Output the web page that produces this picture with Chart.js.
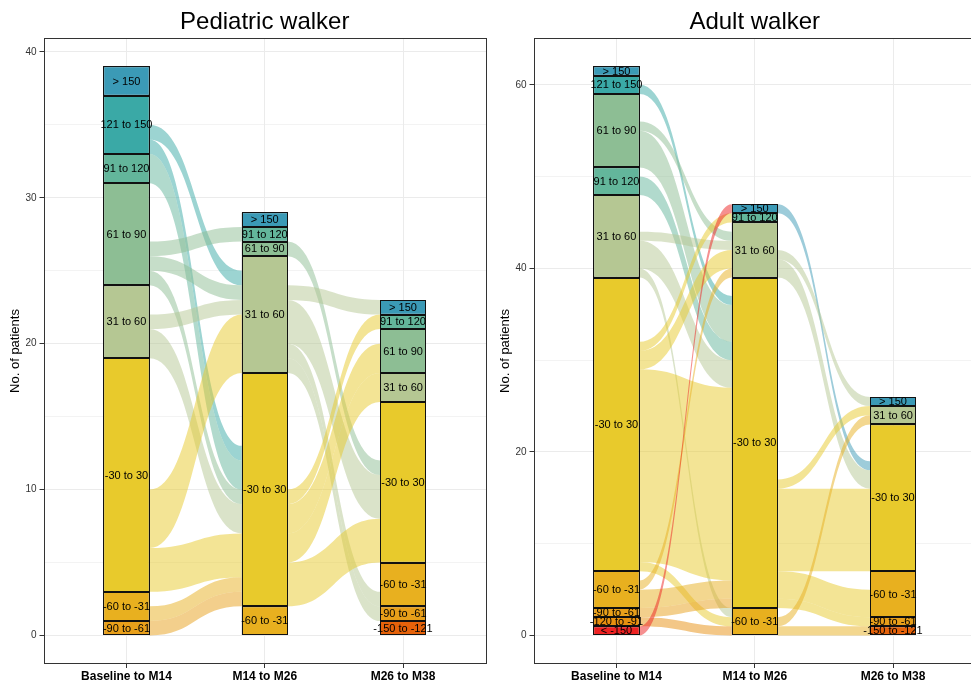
<!DOCTYPE html>
<html>
<head>
<meta charset="utf-8">
<script src="https://cdn.jsdelivr.net/npm/chart.js@4.4.1/dist/chart.umd.min.js"></script>
<style>
  html, body { margin:0; padding:0; background:#fff; overflow:hidden; }
  #wrap { position:relative; width:971px; height:682px; overflow:hidden; }
  canvas { position:absolute; top:0; }
</style>
</head>
<body>
<div id="wrap">
  <canvas id="ped" width="490" height="682" style="left:0px"></canvas>
  <canvas id="adult" width="490" height="682" style="left:490px"></canvas>
</div>
<script>
// ---------------- DATA ----------------
const categories = ["Baseline to M14", "M14 to M26", "M26 to M38"];

// strata per axis, listed top -> bottom: [label, number of patients]
const pedBaseline = [["> 150",2],["121 to 150",4],["91 to 120",2],["61 to 90",7],["31 to 60",5],["-30 to 30",16],["-60 to -31",2],["-90 to -61",1]];
const pedM14 = [["> 150",1],["91 to 120",1],["61 to 90",1],["31 to 60",8],["-30 to 30",16],["-60 to -31",2]];
const pedM26 = [["> 150",1],["91 to 120",1],["61 to 90",3],["31 to 60",2],["-30 to 30",11],["-60 to -31",3],["-90 to -61",1],["-150 to -121",1]];

// flows between consecutive axes: [from, to, patients]
const pedFlows1 = [
  ["121 to 150","31 to 60",1],["121 to 150","-30 to 30",1],
  ["91 to 120","-30 to 30",2],
  ["61 to 90","91 to 120",1],["61 to 90","31 to 60",1],["61 to 90","-30 to 30",1],
  ["31 to 60","31 to 60",1],["31 to 60","-30 to 30",2],
  ["-30 to 30","31 to 60",4],["-30 to 30","-30 to 30",3],
  ["-60 to -31","-30 to 30",1],["-90 to -61","-30 to 30",1]
];
const pedFlows2 = [
  ["61 to 90","-30 to 30",1],
  ["31 to 60","> 150",1],["31 to 60","-30 to 30",3],["31 to 60","-60 to -31",1],["31 to 60","-90 to -61",1],
  ["-30 to 30","91 to 120",1],["-30 to 30","61 to 90",2],["-30 to 30","31 to 60",2],["-30 to 30","-30 to 30",3]
];

const adultBaseline = [["> 150",1],["121 to 150",2],["61 to 90",8],["91 to 120",3],["31 to 60",9],["-30 to 30",32],["-60 to -31",4],["-90 to -61",1],["-120 to -91",1],["< -150",1]];
const adultM14 = [["> 150",1],["91 to 120",1],["31 to 60",6],["-30 to 30",36],["-60 to -31",3]];
const adultM26 = [["> 150",1],["31 to 60",2],["-30 to 30",16],["-60 to -31",5],["-90 to -61",1],["-150 to -121",1]];

const adultFlows1 = [
  ["121 to 150","-30 to 30",1],
  ["61 to 90","31 to 60",1],["61 to 90","-30 to 30",4],
  ["91 to 120","-30 to 30",2],
  ["31 to 60","31 to 60",1],["31 to 60","-30 to 30",3],["31 to 60","-60 to -31",1],
  ["-30 to 30","91 to 120",1],["-30 to 30","31 to 60",2],["-30 to 30","-30 to 30",21],["-30 to 30","-60 to -31",1],
  ["-60 to -31","31 to 60",1],["-60 to -31","-30 to 30",2],
  ["-90 to -61","-30 to 30",1],
  ["-120 to -91","-60 to -31",1],
  ["< -150","> 150",1]
];
const adultFlows2 = [
  ["> 150","-30 to 30",1],
  ["31 to 60","> 150",1],["31 to 60","-30 to 30",2],
  ["-30 to 30","31 to 60",1],["-30 to 30","-30 to 30",9],["-30 to 30","-60 to -31",3],["-30 to 30","-90 to -61",1],
  ["-60 to -31","31 to 60",1],["-60 to -31","-150 to -121",1]
];

const pedTicks = [0,10,20,30,40];
const pedMinorTicks = [5,15,25,35];
const adultTicks = [0,20,40,60];
const adultMinorTicks = [10,30,50];

// ---------------- STYLE ----------------
const strataColors = {
  "> 150": "#3b9ab6",
  "121 to 150": "#3aa9a6",
  "91 to 120": "#63b69b",
  "61 to 90": "#8dbe94",
  "31 to 60": "#b5c793",
  "-30 to 30": "#e8ca2c",
  "-60 to -31": "#e8b01f",
  "-90 to -61": "#e89f1a",
  "-120 to -91": "#e8900f",
  "-150 to -121": "#e5620a",
  "< -150": "#ee2222"
};
const FONT = '"Liberation Sans", Arial, Helvetica, sans-serif';
Chart.defaults.font.family = FONT;

function rgba(hex, a){
  const n = parseInt(hex.slice(1),16);
  return `rgba(${(n>>16)&255},${(n>>8)&255},${n&255},${a})`;
}

function layoutStrata(list){
  let y = list.reduce((s,e)=>s+e[1],0);
  const m = {};
  list.forEach(([name,n])=>{ m[name] = {top:y, bot:y-n, n}; y -= n; });
  return m;
}

function layoutFlows(srcList, dstList, flows){
  const sm = layoutStrata(srcList), dm = layoutStrata(dstList);
  const sIdx = nm => srcList.findIndex(s=>s[0]===nm);
  const dIdx = nm => dstList.findIndex(s=>s[0]===nm);
  const res = flows.map(f=>({from:f[0], to:f[1], n:f[2]}));
  srcList.forEach(([name,count])=>{
    const out = res.filter(f=>f.from===name).sort((a,b)=>dIdx(a.to)-dIdx(b.to));
    const used = out.reduce((s,f)=>s+f.n,0);
    let cur = sm[name].top - (count-used);
    out.forEach(f=>{ f.top0=cur; f.bot0=cur-f.n; cur-=f.n; });
  });
  dstList.forEach(([name,count])=>{
    const inc = res.filter(f=>f.to===name).sort((a,b)=>sIdx(a.from)-sIdx(b.from));
    const used = inc.reduce((s,f)=>s+f.n,0);
    let cur = dm[name].top - (count-used);
    inc.forEach(f=>{ f.top1=cur; f.bot1=cur-f.n; cur-=f.n; });
  });
  return res;
}

function makeChart(id, title, axesLists, flowLists, majorTicks, minorTicks){
  const maps = axesLists.map(layoutStrata);
  const names = [];
  axesLists.forEach(l=>l.forEach(([n])=>{ if(!names.includes(n)) names.push(n); }));
  const total = Math.max(...axesLists.map(l=>l.reduce((s,e)=>s+e[1],0)));
  const pad = total*0.05;
  const transitions = flowLists.map((fl,i)=>layoutFlows(axesLists[i], axesLists[i+1], fl));
  const allTicks = [...majorTicks, ...minorTicks].sort((a,b)=>a-b);

  const datasets = names.map(name=>({
    label: name,
    data: maps.map((m,i)=> m[name] ? {x:i+1, y:[m[name].bot, m[name].top]} : null).filter(Boolean),
    backgroundColor: strataColors[name],
    borderColor: '#000',
    borderWidth: 0.8,
    borderSkipped: false,
    barPercentage: 1/3,
    categoryPercentage: 1,
    grouped: false
  }));

  const plugin = {
    id: 'alluvial_'+id,
    beforeDatasetsDraw(chart){
      const {ctx, chartArea:ca, scales:{x,y}} = chart;
      ctx.save();
      ctx.beginPath(); ctx.rect(ca.left, ca.top, ca.right-ca.left, ca.bottom-ca.top); ctx.clip();
      transitions.forEach((flows, t)=>{
        const x0 = x.getPixelForValue(t+1+1/6);
        const x1 = x.getPixelForValue(t+2-1/6);
        const xm = (x0+x1)/2;
        flows.forEach(f=>{
          const a0=y.getPixelForValue(f.top0), b0=y.getPixelForValue(f.bot0);
          const a1=y.getPixelForValue(f.top1), b1=y.getPixelForValue(f.bot1);
          ctx.beginPath();
          ctx.moveTo(x0,a0);
          ctx.bezierCurveTo(xm,a0,xm,a1,x1,a1);
          ctx.lineTo(x1,b1);
          ctx.bezierCurveTo(xm,b1,xm,b0,x0,b0);
          ctx.closePath();
          ctx.fillStyle = rgba(strataColors[f.from], 0.5);
          ctx.fill();
        });
      });
      ctx.restore();
    },
    afterDatasetsDraw(chart){
      const ctx = chart.ctx;
      ctx.save();
      // outline each stratum once with a crisp dark line
      ctx.strokeStyle = '#111';
      ctx.lineWidth = 1;
      chart.data.datasets.forEach((ds,di)=>{
        const meta = chart.getDatasetMeta(di);
        meta.data.forEach(el=>{
          const p = el.getProps(['x','y','base','width'], true);
          const l = Math.round(p.x - p.width/2)+0.5, r = Math.round(p.x + p.width/2)-0.5;
          const t = Math.round(Math.min(p.y,p.base))+0.5, b = Math.round(Math.max(p.y,p.base))-0.5;
          ctx.strokeRect(l, t, r-l, b-t);
        });
      });
      ctx.font = '11px '+FONT;
      ctx.fillStyle = '#000';
      ctx.textAlign = 'center';
      ctx.textBaseline = 'middle';
      chart.data.datasets.forEach((ds,di)=>{
        const meta = chart.getDatasetMeta(di);
        meta.data.forEach(el=>{
          const p = el.getProps(['x','y','base'], true);
          ctx.fillText(ds.label, p.x, (p.y+p.base)/2+0.5);
        });
      });
      ctx.restore();
    },
    afterDraw(chart){
      const {ctx, chartArea:ca} = chart;
      ctx.save();
      ctx.strokeStyle = '#333';
      ctx.lineWidth = 1;
      ctx.strokeRect(Math.round(ca.left)+0.5, Math.round(ca.top)+0.5, Math.round(ca.right-ca.left)-1, Math.round(ca.bottom-ca.top)-1);
      ctx.fillStyle = '#000';
      ctx.textAlign = 'center';
      ctx.textBaseline = 'alphabetic';
      ctx.font = '24px '+FONT;
      ctx.fillText(title, (ca.left+ca.right)/2, 29);
      ctx.translate(ca.left-28, (ca.top+ca.bottom)/2);
      ctx.rotate(-Math.PI/2);
      ctx.textBaseline = 'middle';
      ctx.font = '13px '+FONT;
      ctx.fillText('No. of patients', 0, 0);
      ctx.restore();
    }
  };

  return new Chart(document.getElementById(id), {
    type: 'bar',
    data: { datasets },
    options: {
      responsive: false,
      animation: false,
      devicePixelRatio: 1,
      layout: { padding: { top: 38, right: 4, left: 0, bottom: 0 } },
      plugins: { legend:{display:false}, tooltip:{enabled:false}, title:{display:false} },
      scales: {
        x: {
          type: 'linear', min: 0.4, max: 3.6, offset: false,
          afterBuildTicks: s => { s.ticks = categories.map((c,i)=>({value:i+1})); },
          afterFit: s => { s.height = 18; },
          ticks: { callback: (v,i)=>categories[i], autoSkip:false, maxRotation:0, padding:1,
                   color:'#000', font:{size:12, weight:'bold'} },
          grid: { offset:false, color:'#ebebeb', lineWidth:1, tickColor:'#333', tickLength:4 },
          border: { display:false }
        },
        y: {
          type: 'linear', min: -pad, max: total+pad,
          afterBuildTicks: s => { s.ticks = allTicks.map(v=>({value:v})); },
          afterFit: s => { s.width = 43.5; },
          ticks: { callback: v => majorTicks.includes(v) ? String(v) : '', autoSkip:false, padding:3,
                   color:'#333', font:{size:10} },
          grid: {
            color: '#ebebeb',
            lineWidth: c => majorTicks.includes(c.tick.value) ? 1 : 0.6,
            tickColor: c => majorTicks.includes(c.tick.value) ? '#333' : 'rgba(0,0,0,0)',
            tickLength: 4
          },
          border: { display:false }
        }
      }
    },
    plugins: [plugin]
  });
}

makeChart('ped', 'Pediatric walker', [pedBaseline, pedM14, pedM26], [pedFlows1, pedFlows2], pedTicks, pedMinorTicks);
makeChart('adult', 'Adult walker', [adultBaseline, adultM14, adultM26], [adultFlows1, adultFlows2], adultTicks, adultMinorTicks);
</script>
</body>
</html>
